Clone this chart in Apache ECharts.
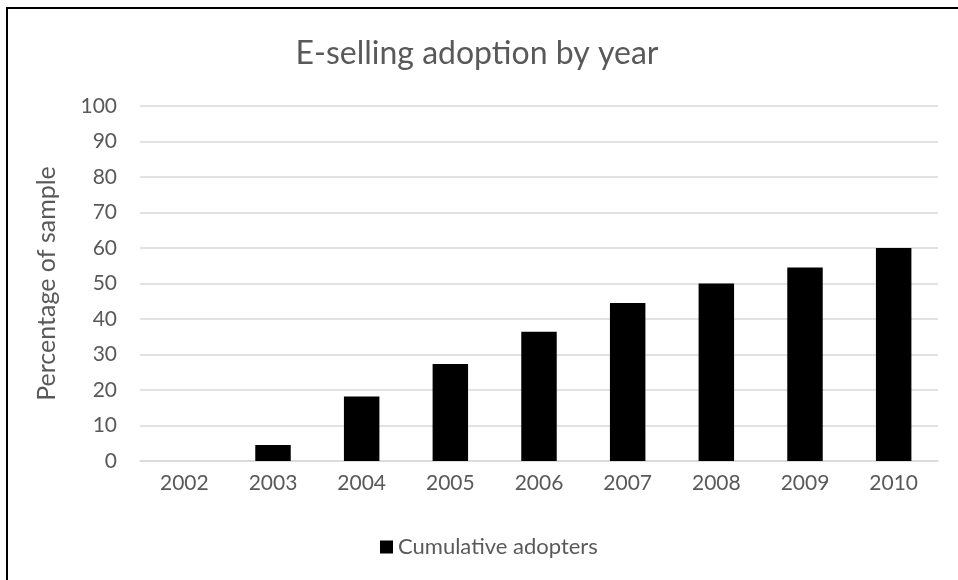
<!DOCTYPE html>
<html lang="en">
<head>
    <meta charset="UTF-8">
    <title>E-selling adoption by year</title>
    <script src="https://cdn.jsdelivr.net/npm/echarts@6/dist/echarts.min.js"></script>
    <style>
        body {
            margin: 0;
            background: #ffffff;
        }

        #chart {
            width: 958px;
            height: 580px;
        }
    </style>
</head>
<body>
    <div id="chart"></div>

    <script>
        // data
        const years = ['2002', '2003', '2004', '2005', '2006', '2007', '2008', '2009', '2010'];
        const adopters = [0, 4.5, 18.2, 27.3, 36.4, 44.5, 50, 54.5, 60];
        const yTicks = { min: 0, max: 100, interval: 10 };

        const textColor = '#595959';
        const fontName = 'Lato';

        const chart = echarts.init(document.getElementById('chart'));

        const option = {
            animation: false,
            backgroundColor: '#ffffff',
            textStyle: { fontFamily: fontName, color: textColor },
            title: {
                text: 'E-selling adoption by year',
                left: 472,
                textAlign: 'center',
                top: 33,
                textStyle: {
                    fontFamily: fontName,
                    fontSize: 32,
                    fontWeight: 'normal',
                    color: textColor
                }
            },
            legend: {
                data: ['Cumulative adopters'],
                left: 375,
                top: 531,
                itemWidth: 13,
                itemHeight: 13,
                itemGap: 6,
                icon: 'rect',
                textStyle: { fontFamily: fontName, fontSize: 22, color: textColor }
            },
            grid: {
                left: 140,
                right: 20,
                top: 106,
                bottom: 119,
                containLabel: false
            },
            xAxis: {
                type: 'category',
                data: years,
                axisLine: { lineStyle: { color: '#d9d9d9', width: 1.5 } },
                axisTick: { show: false },
                axisLabel: {
                    margin: 12,
                    fontFamily: fontName,
                    fontSize: 21,
                    color: textColor
                }
            },
            yAxis: {
                type: 'value',
                min: yTicks.min,
                max: yTicks.max,
                interval: yTicks.interval,
                name: 'Percentage of sample',
                nameLocation: 'middle',
                nameGap: 81,
                nameTextStyle: { fontFamily: fontName, fontSize: 25, color: textColor },
                axisLine: { show: false },
                axisTick: { show: false },
                axisLabel: {
                    margin: 23,
                    fontFamily: fontName,
                    fontSize: 21,
                    color: textColor
                },
                splitLine: { lineStyle: { color: '#d9d9d9', width: 1.5 } }
            },
            series: [{
                name: 'Cumulative adopters',
                type: 'bar',
                data: adopters,
                barWidth: '40%',
                itemStyle: { color: '#000000' }
            }],
            graphic: [
                // frame: only top and left edges are visible in the crop
                { type: 'rect', shape: { x: 6, y: 7, width: 952, height: 2 }, style: { fill: '#000000' }, silent: true },
                { type: 'rect', shape: { x: 6, y: 7, width: 2, height: 573 }, style: { fill: '#000000' }, silent: true }
            ]
        };

        chart.setOption(option);
    </script>
</body>
</html>
